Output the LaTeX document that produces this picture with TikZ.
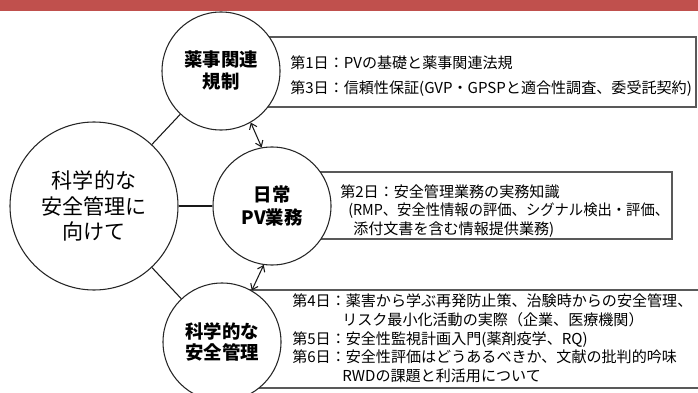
\documentclass[tikz,border=0pt]{standalone}
\usepackage{fontspec}
\setmainfont{Noto Sans CJK JP}
\usetikzlibrary{arrows.meta}
\definecolor{barred}{HTML}{C0504D}
\begin{document}
\begin{tikzpicture}[x=0.75pt,y=-0.75pt,
  circ/.style={circle,draw=black!85,line width=0.8pt,fill=white,inner sep=0pt,align=center,minimum size=#1},
  boxst/.style={draw=black!65,line width=1pt},
  txt/.style={anchor=west,inner sep=0pt,font=\fontsize{11.3pt}{14pt}\selectfont,text height=0.88em,text depth=0.12em},
  conn/.style={draw=black!90,line width=0.8pt},
  dbl/.style={draw=black!90,line width=0.8pt,{Straight Barb[length=4pt,width=6pt]}-{Straight Barb[length=4pt,width=6pt]}}]
\useasboundingbox (0,0) rectangle (698,392);
\fill[barred] (0,0) rectangle (698,11);
% boxes
\draw[boxst] (230,37) rectangle (696,107);
\draw[boxst] (300,172) rectangle (672,239);
\draw[boxst] (230,290) rectangle (720,388);
% circles
\node[circ=126pt,font=\fontsize{15.8pt}{19pt}\selectfont] (L) at (94,206) {科学的な\\安全管理に\\向けて};
\node[circ=88.5pt,font=\bfseries\fontsize{13.8pt}{16.5pt}\selectfont] (T) at (221,71) {薬事関連\\規制};
\node[circ=88.5pt,font=\bfseries\fontsize{13.8pt}{17.25pt}\selectfont] (M) at (272,206) {日常\\PV業務};
\node[circ=88.5pt,font=\bfseries\fontsize{13.8pt}{15.5pt}\selectfont] (B) at (222,342) {科学的な\\安全管理};
% connectors
\draw[conn] (L) -- (T);
\draw[conn] (L) -- (M);
\draw[conn] (L) -- (B);
\draw[dbl] (T.-60) -- (M.100);
\draw[dbl] (M.-98) -- (B.60);
% texts
\node[txt] (t1) at (290,63) {第1日：PVの基礎と薬事関連法規};
\node[txt] (t3) at (290,88) {第3日：信頼性保証(GVP・GPSPと適合性調査、委受託契約)};
\node[txt] (m1) at (340,192) {第2日：安全管理業務の実務知識};
\node[txt] (m2) at (348,210) {\scalebox{0.95}[1]{(RMP、安全性情報の評価、シグナル検出・評価、}};
\node[txt] (m3) at (353,229) {添付文書を含む情報提供業務)};
\node[txt] (b1) at (292,301) {第4日：薬害から学ぶ再発防止策、治験時からの安全管理、};
\node[txt] (b2) at (342,320) {リスク最小化活動の実際（企業、医療機関）};
\node[txt] (b3) at (292,339) {第5日：安全性監視計画入門(薬剤疫学、RQ)};
\node[txt] (b4) at (292,357) {第6日：安全性評価はどうあるべきか、文献の批判的吟味};
\node[txt] (b5) at (342,376) {RWDの課題と利活用について};
\end{tikzpicture}
\end{document}
